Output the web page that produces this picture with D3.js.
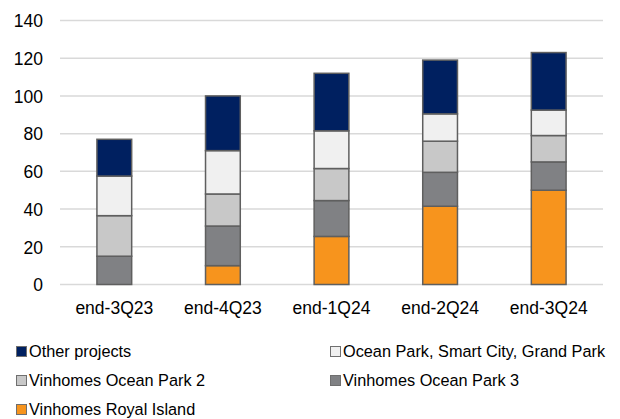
<!DOCTYPE html>
<html lang="en">
  <head>
    <meta charset="UTF-8" />
    <title>Stacked projects</title>
    <script src="https://d3js.org/d3.v7.min.js"></script>
    <style>
      body {
        margin: 0;
        background: #fff;
      }
      svg text {
        font-family: "Liberation Sans", Arial, sans-serif;
        fill: #000;
      }
      .tick-label {
        font-size: 17.5px;
      }
      .legend-label {
        font-size: 16.3px;
      }
    </style>
  </head>
  <body>
    <div id="chart"></div>

    <script>
      // data
      const periods = ["end-3Q23", "end-4Q23", "end-1Q24", "end-2Q24", "end-3Q24"];
      const series = [
        "Vinhomes Royal Island",
        "Vinhomes Ocean Park 3",
        "Vinhomes Ocean Park 2",
        "Ocean Park, Smart City, Grand Park",
        "Other projects",
      ];
      const royalIsland = [0, 10, 25.5, 41.5, 50];
      const oceanPark3 = [15, 21, 19, 18, 15];
      const oceanPark2 = [21.5, 17, 17, 16.5, 14];
      const oceanParkSmartGrand = [21, 23, 20, 14.5, 13.5];
      const otherProjects = [19.5, 29, 30.5, 28.5, 30.5];
      const yTicks = [0, 20, 40, 60, 80, 100, 120, 140];

      const colors = ["#f7941d", "#808184", "#c8c8c8", "#f0f0f0", "#002060"];
      const legendOrder = [4, 3, 2, 1, 0];

      const width = 620,
        height = 419;
      const margin = { top: 20.5, right: 17, bottom: 134.5, left: 60 };

      const rows = periods.map((p, i) => ({
        period: p,
        [series[0]]: royalIsland[i],
        [series[1]]: oceanPark3[i],
        [series[2]]: oceanPark2[i],
        [series[3]]: oceanParkSmartGrand[i],
        [series[4]]: otherProjects[i],
      }));
      const stacked = d3.stack().keys(series)(rows);

      const svg = d3
        .select("#chart")
        .append("svg")
        .attr("width", width)
        .attr("height", height);

      const x = d3
        .scaleBand()
        .domain(periods)
        .range([margin.left, width - margin.right])
        .paddingInner(0.68)
        .paddingOuter(0.34);

      const y = d3
        .scaleLinear()
        .domain([0, 140])
        .range([height - margin.bottom, margin.top]);

      // gridlines
      svg
        .append("g")
        .selectAll("line")
        .data(yTicks)
        .join("line")
        .attr("x1", margin.left)
        .attr("x2", width - margin.right)
        .attr("y1", (d) => y(d))
        .attr("y2", (d) => y(d))
        .attr("stroke", "#d9d9d9")
        .attr("stroke-width", 1.5);

      // y axis labels
      const yAxis = svg
        .append("g")
        .attr("transform", `translate(${margin.left - 17},0)`)
        .call(d3.axisLeft(y).tickValues(yTicks).tickSize(0).tickPadding(0));
      yAxis.select(".domain").remove();
      yAxis
        .selectAll("text")
        .attr("class", "tick-label")
        .attr("font-family", null)
        .attr("font-size", null)
        .attr("dy", "0.36em");

      // bars
      svg
        .append("g")
        .selectAll("g")
        .data(stacked)
        .join("g")
        .attr("fill", (d, i) => colors[i])
        .selectAll("rect")
        .data((d) => d.filter((v) => v[1] - v[0] > 0))
        .join("rect")
        .attr("x", (d) => x(d.data.period))
        .attr("y", (d) => y(d[1]))
        .attr("width", x.bandwidth())
        .attr("height", (d) => y(d[0]) - y(d[1]))
        .attr("stroke", "#5f5f5f")
        .attr("stroke-width", 1.5);

      // x axis labels
      const xAxis = svg
        .append("g")
        .attr("transform", `translate(0,${y(0)})`)
        .call(d3.axisBottom(x).tickSize(0).tickPadding(0));
      xAxis.select(".domain").remove();
      xAxis
        .selectAll("text")
        .attr("class", "tick-label")
        .attr("font-family", null)
        .attr("font-size", null)
        .attr("dy", null)
        .attr("y", 29);

      // legend
      const legendPos = [
        [16, 357],
        [330, 357],
        [16, 386],
        [330, 386],
        [16, 415],
      ];
      const legend = svg
        .append("g")
        .selectAll("g")
        .data(legendOrder)
        .join("g")
        .attr("transform", (d, i) => `translate(${legendPos[i][0]},${legendPos[i][1]})`);
      legend
        .append("rect")
        .attr("x", 0.5)
        .attr("y", -10.5)
        .attr("width", 10)
        .attr("height", 10)
        .attr("fill", (d) => colors[d])
        .attr("stroke", "#6f6f6f")
        .attr("stroke-width", 1);
      legend
        .append("text")
        .attr("class", "legend-label")
        .attr("x", 13)
        .attr("y", 0)
        .text((d) => series[d]);
    </script>
  </body>
</html>
